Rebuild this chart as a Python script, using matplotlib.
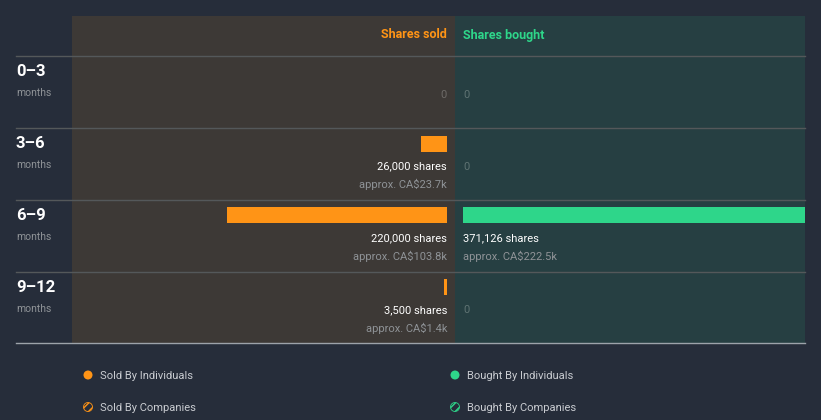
import matplotlib.pyplot as plt
from matplotlib.patches import Circle, Rectangle

plt.rcParams['font.family'] = ['Roboto', 'DejaVu Sans']

# Données
periodes = ["0–3", "3–6", "6–9", "9–12"]
vendues = [0, 26000, 220000, 3500]          # actions vendues
valeur_vendues = [0, 23.7, 103.8, 1.4]      # en milliers de CA$
achetees = [0, 0, 371126, 0]                # actions achetées
valeur_achetees = [0, 0, 222.5, 0]
legende = ["Sold By Individuals", "Bought By Individuals", "Sold By Companies", "Bought By Companies"]

orange = "#ff9416"
vert = "#2ed68a"
fond = "#262d3a"
blanc = "#ffffff"
gris = "#8f9397"

W, H = 821, 420
fig = plt.figure(figsize=(W / 100, H / 100), dpi=100, facecolor=fond)

def axes_px(x0, y0, x1, y1):
    # axes placé en pixels (y depuis le haut)
    return fig.add_axes([x0 / W, 1 - y1 / H, (x1 - x0) / W, (y1 - y0) / H])

# Axe de fond pour le texte, les lignes et la légende
bg = axes_px(0, 0, W, H)
bg.set_xlim(0, W)
bg.set_ylim(H, 0)
bg.axis("off")
bg.set_zorder(0)

bg.add_patch(Rectangle((72, 16), 455 - 72, 343 - 16, facecolor="#3d3936", edgecolor="none"))
bg.add_patch(Rectangle((455, 16), 805 - 455, 343 - 16, facecolor="#263f42", edgecolor="none"))

for i in range(4):
    y = 56 + 72 * i
    bg.plot([16, 805], [y, y], color="#54585a", lw=1, zorder=1)
    bg.text(16, y + 15.5, periodes[i], color=blanc, fontsize=12, fontweight="bold", va="center", ha="left")
    bg.text(16, y + 37, "months", color=gris, fontsize=7.5, va="center", ha="left")
bg.plot([16, 805], [343, 343], color="#9da3aa", lw=1, zorder=1)

bg.text(447, 35, "Shares sold", color=orange, fontsize=9, fontweight="bold", ha="right", va="center")
bg.text(463, 35, "Shares bought", color=vert, fontsize=9, fontweight="bold", ha="left", va="center")

# Légende
pos_leg = [(88, 375), (455, 375), (88, 407), (455, 407)]
coul_leg = [orange, vert, orange, vert]
for k, (x, y) in enumerate(pos_leg):
    if k < 2:
        bg.add_patch(Circle((x, y), 4.5, facecolor=coul_leg[k], edgecolor="none"))
    else:
        bg.add_patch(Circle((x, y), 4.5, facecolor=fond, edgecolor=coul_leg[k], hatch="////", lw=0.6))
    bg.text(x + 12, y + 1, legende[k], color="#c9ccd1", fontsize=8, ha="left", va="center")

# Barres : 1 px = 1000 actions
haut = -40 / 72
ax_v = axes_px(72, 16, 455, 343)
ax_v.set_xlim(375000, -8000)
ax_v.set_ylim(4, haut)
ax_a = axes_px(455, 16, 805, 343)
ax_a.set_xlim(-8000, 342000)
ax_a.set_ylim(4, haut)
for ax in (ax_v, ax_a):
    ax.axis("off")
    ax.patch.set_alpha(0)

lignes = [i + 16 / 72 for i in range(4)]
ax_v.barh(lignes, vendues, height=16 / 72, color=orange)
ax_a.barh(lignes, achetees, height=16 / 72, color=vert)

for i in range(4):
    y1 = i + 39 / 72
    y2 = i + 57 / 72
    if vendues[i] > 0:
        ax_v.text(0, y1, f"{vendues[i]:,} shares", color=blanc, fontsize=8, ha="right", va="center")
        ax_v.text(0, y2, f"approx. CA${valeur_vendues[i]}k", color=gris, fontsize=8, ha="right", va="center")
    else:
        ax_v.text(0, y1, "0", color="#6e6b68", fontsize=8, ha="right", va="center")
    if achetees[i] > 0:
        ax_a.text(0, y1, f"{achetees[i]:,} shares", color=blanc, fontsize=8, ha="left", va="center")
        ax_a.text(0, y2, f"approx. CA${valeur_achetees[i]}k", color=gris, fontsize=8, ha="left", va="center")
    else:
        ax_a.text(0, y1, "0", color="#5f7373", fontsize=8, ha="left", va="center")

fig.savefig("out.png", dpi=100, facecolor=fond)
